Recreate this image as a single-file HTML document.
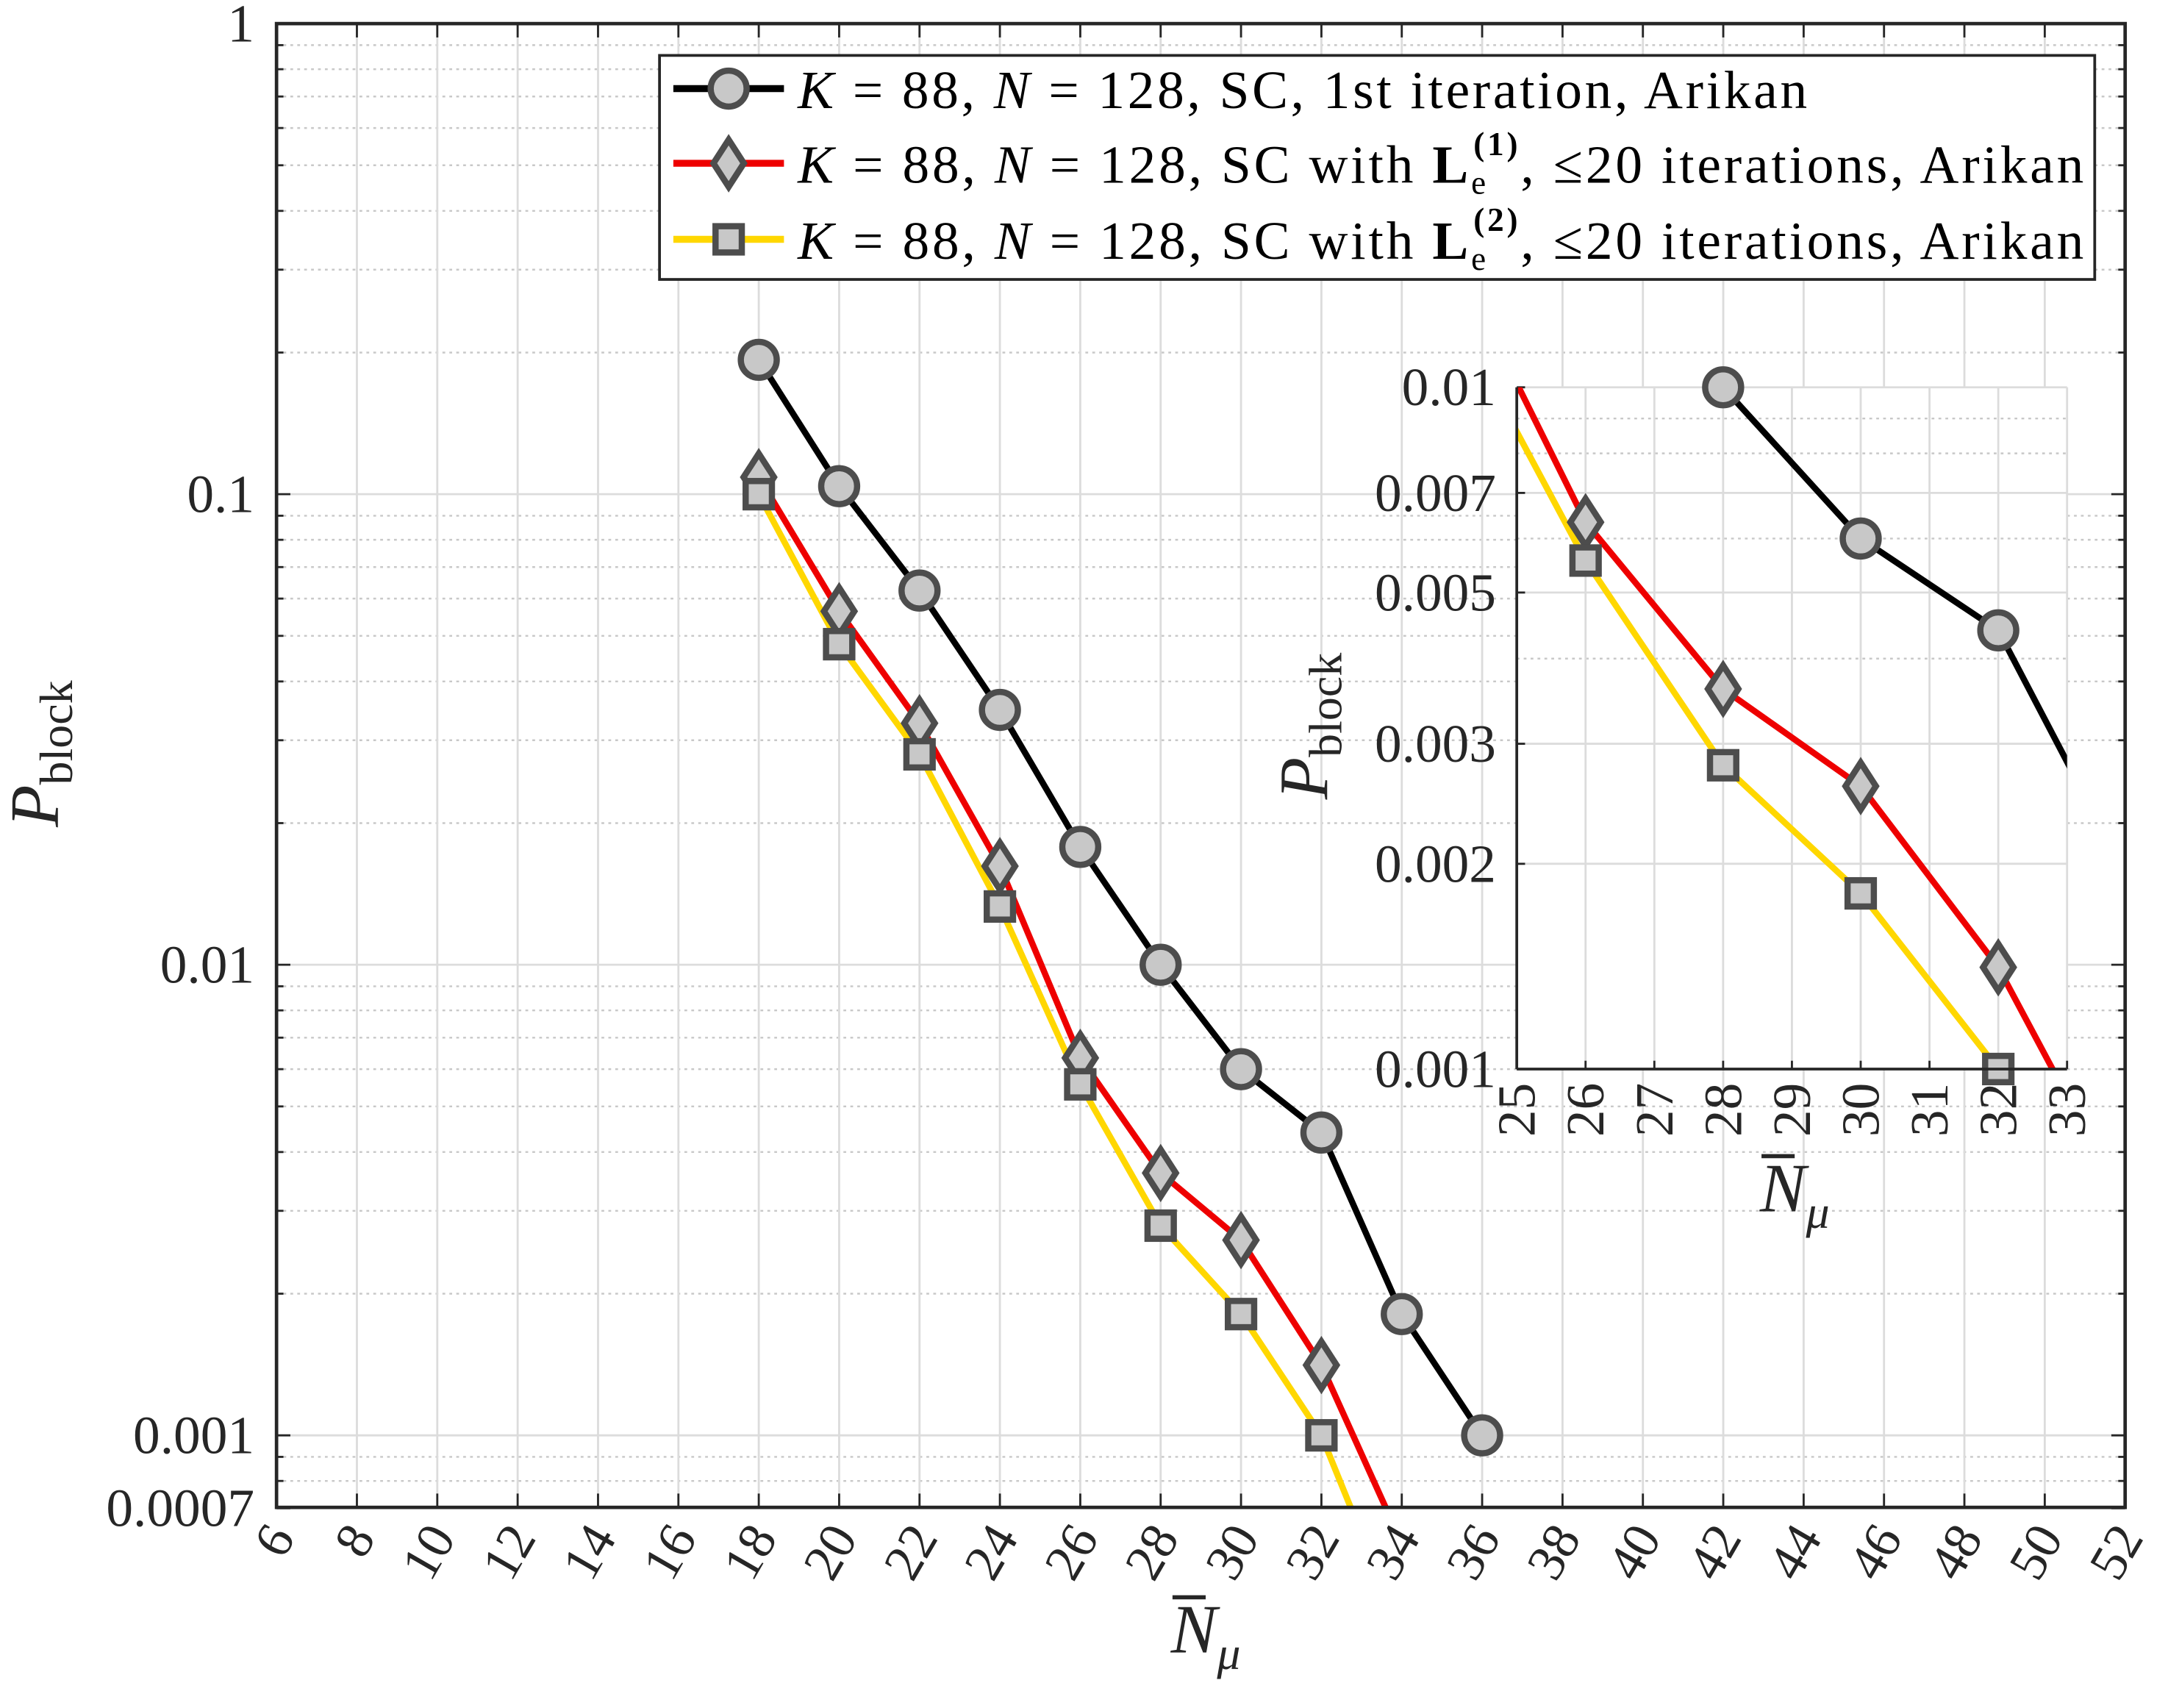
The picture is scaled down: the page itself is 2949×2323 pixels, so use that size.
<!DOCTYPE html>
<html><head><meta charset="utf-8">
<style>
html,body{margin:0;padding:0;background:#fff;}
svg{display:block;font-family:"Liberation Serif",serif;}
</style></head>
<body>
<svg id="chart" width="2949" height="2323" viewBox="0 0 1568 1235" xmlns="http://www.w3.org/2000/svg">
<rect x="0" y="0" width="1568" height="1235" fill="#fff"/>
<g id="main"></g>
<g id="inset"></g>
<g id="legend"></g>
</svg>
<script>
const xs = [18, 20, 22, 24, 26, 28, 30, 32, 34, 36];
const blackVals = [0.193, 0.104, 0.0624, 0.0348, 0.0178, 0.01, 0.006, 0.0044, 0.00181, 0.001];
const redVals = [0.1087, 0.0564, 0.0326, 0.0162, 0.00634, 0.00361, 0.0026, 0.00141, 0.00059, null];
const yellowVals = [0.1, 0.048, 0.028, 0.0133, 0.00557, 0.00279, 0.00181, 0.001, 0.00038, null];
const xTicks = [6,8,10,12,14,16,18,20,22,24,26,28,30,32,34,36,38,40,42,44,46,48,50,52];
const yTickVals = [1, 0.1, 0.01, 0.001, 0.0007];
const yTickLabels = ["1", "0.1", "0.01", "0.001", "0.0007"];
const insetXTicks = [25,26,27,28,29,30,31,32,33];
const insetYTickVals = [0.01, 0.007, 0.005, 0.003, 0.002, 0.001];
const insetYTickLabels = ["0.01", "0.007", "0.005", "0.003", "0.002", "0.001"];

const NS = "http://www.w3.org/2000/svg";
function mk(parent, tag, attrs, text){
  const e = document.createElementNS(NS, tag);
  for (const k in attrs) e.setAttribute(k, attrs[k]);
  if (text !== undefined) e.textContent = text;
  parent.appendChild(e);
  return e;
}
const series = [
  {vals: blackVals, color: "#000", marker: "circle", name: "black-series"},
  {vals: redVals, color: "#ee0000", marker: "diamond", name: "red-series"},
  {vals: yellowVals, color: "#ffd700", marker: "square", name: "yellow-series"}
];
function drawMarker(g, type, x, y, s){
  let m;
  if (type === "circle") m = mk(g, "circle", {cx:x, cy:y, r:13*s});
  else if (type === "diamond") m = mk(g, "polygon", {points:`${x},${y-17*s} ${x+11*s},${y} ${x},${y+17*s} ${x-11*s},${y}`});
  else m = mk(g, "rect", {x:x-9.5*s, y:y-9.5*s, width:19*s, height:19*s});
  m.setAttribute("fill", "#c8c8c8");
  m.setAttribute("stroke", "#4d4d4d");
  m.setAttribute("stroke-width", 4.5*s);
  return m;
}

// ---------- main plot ----------
const L=200, R=1537, T=17, B=1090;
const xMin=6, xMax=52;
const X = v => L + (v - xMin) / (xMax - xMin) * (R - L);
const Y = v => T + (0 - Math.log10(v)) * 340.3;
const main = document.getElementById("main");
const mg = mk(main, "g", {});
for (let d=-4; d<=-1; d++){
  for (let m=2; m<=9; m++){
    const v = m*Math.pow(10,d);
    if (v < 0.0007 || v >= 1) continue;
    if (Math.abs(v-0.0007)<1e-9) continue;
    const y = Y(v);
    const ln = mk(mg, "line", {x1:L, x2:R, y1:y, y2:y, stroke:"#c8c8c8", "stroke-width":1.3, "stroke-dasharray":"2,3"});
    
    
    mk(mg,"line",{x1:L,x2:L+5,y1:y,y2:y,stroke:"#262626","stroke-width":1.5});
    mk(mg,"line",{x1:R-5,x2:R,y1:y,y2:y,stroke:"#262626","stroke-width":1.5});
  }
}
xTicks.forEach(t=>{
  const x = X(t);
  const ln = mk(mg, "line", {x1:x, x2:x, y1:T, y2:B, stroke:"#dcdcdc", "stroke-width":1.5});
  
  
  mk(mg,"line",{x1:x,x2:x,y1:B,y2:B-10,stroke:"#262626","stroke-width":1.5});
  mk(mg,"line",{x1:x,x2:x,y1:T,y2:T+10,stroke:"#262626","stroke-width":1.5});
  const tl = mk(mg, "text", {x:0, y:0, "font-size":38, fill:"#262626", "text-anchor":"end",
    transform:`translate(${x+14},${1112}) rotate(-60)`}, String(t));
  
  
});
yTickVals.forEach((v,i)=>{
  const y = Y(v);
  if (v < 1 && v > 0.0007) {
    const ln = mk(mg, "line", {x1:L, x2:R, y1:y, y2:y, stroke:"#dcdcdc", "stroke-width":1.5});
    
    
  }
  mk(mg,"line",{x1:L,x2:L+10,y1:y,y2:y,stroke:"#262626","stroke-width":1.5});
  mk(mg,"line",{x1:R-10,x2:R,y1:y,y2:y,stroke:"#262626","stroke-width":1.5});
  const tl = mk(mg, "text", {x:184, y:y+13, "font-size":39, fill:"#262626", "text-anchor":"end"}, yTickLabels[i]);
  
  
});
const defs = mk(main, "defs", {});
const cp = mk(defs, "clipPath", {id:"mainclip"});
mk(cp, "rect", {x:L, y:T, width:R-L, height:B-T});
const sg = mk(main, "g", {"clip-path":"url(#mainclip)"});
series.forEach(s=>{
  const pts = [];
  s.vals.forEach((v,i)=>{ if (v!==null) pts.push([X(xs[i]), Y(v)]); });
  const pl = mk(sg, "polyline", {points:pts.map(p=>p.join(",")).join(" "), fill:"none", stroke:s.color, "stroke-width":4.5, "stroke-linejoin":"round"});
  
  
});
series.forEach(s=>{
  s.vals.forEach((v,i)=>{
    if (v===null) return;
    const y = Y(v);
    if (y > B) return;
    const m = drawMarker(main, s.marker, X(xs[i]), y, 1);
    
    
  });
});
const box = mk(main, "rect", {x:L, y:T, width:R-L, height:B-T, fill:"none", stroke:"#262626", "stroke-width":2.5});


const xl = mk(main, "text", {x:872, y:1195, "font-size":50, "font-style":"italic", fill:"#262626", "text-anchor":"middle"});
xl.innerHTML = 'N<tspan font-size="34" dy="12">μ</tspan>';


mk(main, "line", {x1:848, x2:872, y1:1155, y2:1155, stroke:"#262626", "stroke-width":3});
const yl = mk(main, "text", {x:0, y:0, "font-size":50, fill:"#262626", "text-anchor":"middle", transform:"translate(42,545) rotate(-90)"});
yl.innerHTML = '<tspan font-style="italic">P</tspan><tspan font-size="34" dy="10">block</tspan>';



// ---------- inset ----------
const iL=1097, iR=1495, iT=280, iB=773;
const IX = v => iL + (v - 25) / 8 * (iR - iL);
const IY = v => iT + (-2 - Math.log10(v)) * (iB - iT);
const inset = document.getElementById("inset");
mk(inset, "rect", {x:iL, y:iT, width:iR-iL, height:iB-iT, fill:"#fff"});
[0.009,0.008,0.006,0.004].forEach(v=>{
  const y = IY(v);
  const ln = mk(inset, "line", {x1:iL, x2:iR, y1:y, y2:y, stroke:"#c8c8c8", "stroke-width":1.3, "stroke-dasharray":"2,3"});
  
  
});
insetXTicks.forEach(t=>{
  const x = IX(t);
  const ln = mk(inset, "line", {x1:x, x2:x, y1:iT, y2:iB, stroke:"#dcdcdc", "stroke-width":1.5});
  
  
  mk(inset,"line",{x1:x,x2:x,y1:iB,y2:iB-6,stroke:"#262626","stroke-width":1.5});
  const tl = mk(inset, "text", {x:0, y:0, "font-size":39, fill:"#262626", "text-anchor":"end",
    transform:`translate(${x+13},${iB+10}) rotate(-90)`}, String(t));
  
  
});
insetYTickVals.forEach((v,i)=>{
  const y = IY(v);
  const ln = mk(inset, "line", {x1:iL, x2:iR, y1:y, y2:y, stroke:"#dcdcdc", "stroke-width":1.5});
  
  
  mk(inset,"line",{x1:iL,x2:iL+6,y1:y,y2:y,stroke:"#262626","stroke-width":1.5});
  const tl = mk(inset, "text", {x:1082, y:y+13, "font-size":39, fill:"#262626", "text-anchor":"end"}, insetYTickLabels[i]);
  
  
});
const idefs = mk(inset, "defs", {});
const icp = mk(idefs, "clipPath", {id:"insetclip"});
mk(icp, "rect", {x:iL, y:iT, width:iR-iL, height:iB-iT});
const isg = mk(inset, "g", {"clip-path":"url(#insetclip)"});
series.forEach(s=>{
  const pts = [];
  s.vals.forEach((v,i)=>{ if (v!==null) pts.push([IX(xs[i]), IY(v)]); });
  const pl = mk(isg, "polyline", {points:pts.map(p=>p.join(",")).join(" "), fill:"none", stroke:s.color, "stroke-width":4.5, "stroke-linejoin":"round"});
  
  
});
series.forEach(s=>{
  s.vals.forEach((v,i)=>{
    if (v===null) return;
    if (xs[i] < 25 || xs[i] > 33) return;
    const y = IY(v);
    if (y > iB + 1 || y < iT - 1) return;
    const m = drawMarker(inset, s.marker, IX(xs[i]), y, 1);
    
    
  });
});
mk(inset, "line", {x1:iL, x2:iL, y1:iT, y2:iB, stroke:"#262626", "stroke-width":2});
mk(inset, "line", {x1:iL, x2:iR, y1:iB, y2:iB, stroke:"#262626", "stroke-width":2});
const ixl = mk(inset, "text", {x:1298, y:876, "font-size":50, "font-style":"italic", fill:"#262626", "text-anchor":"middle"});
ixl.innerHTML = 'N<tspan font-size="34" dy="12">μ</tspan>';


mk(inset, "line", {x1:1274, x2:1298, y1:836, y2:836, stroke:"#262626", "stroke-width":3});
const iyl = mk(inset, "text", {x:0, y:0, "font-size":50, fill:"#262626", "text-anchor":"middle", transform:"translate(960,525) rotate(-90)"});
iyl.innerHTML = '<tspan font-style="italic">P</tspan><tspan font-size="34" dy="10">block</tspan>';



// ---------- legend ----------
const leg = document.getElementById("legend");
const lb = mk(leg, "rect", {x:477, y:40, width:1038, height:162, fill:"#fff", stroke:"#262626", "stroke-width":2});


const rowsY = [64, 118, 173];
const lens = [730, 930, 930];
series.forEach((s,i)=>{
  const g = mk(leg, "g", {});
  
  
  mk(g, "line", {x1:487, x2:567, y1:rowsY[i], y2:rowsY[i], stroke:s.color, "stroke-width":5});
  drawMarker(g, s.marker, 527, rowsY[i], 1);
  const t = mk(g, "text", {x:577, y:rowsY[i]+14, "font-size":39, fill:"#000", textLength:lens[i], lengthAdjust:"spacing"});
  if (i===0) t.innerHTML = '<tspan font-style="italic">K</tspan> = 88, <tspan font-style="italic">N</tspan> = 128, SC, 1st iteration, Arikan';
  else t.innerHTML = '<tspan font-style="italic">K</tspan> = 88, <tspan font-style="italic">N</tspan> = 128, SC with <tspan font-weight="bold">L</tspan><tspan font-size="24" dy="8">e</tspan><tspan font-size="24" dy="-28" dx="-11" font-weight="bold">(' + (i) + ')</tspan><tspan dy="20">, ≤20 iterations, Arikan</tspan>';
});
</script>
</body></html>
